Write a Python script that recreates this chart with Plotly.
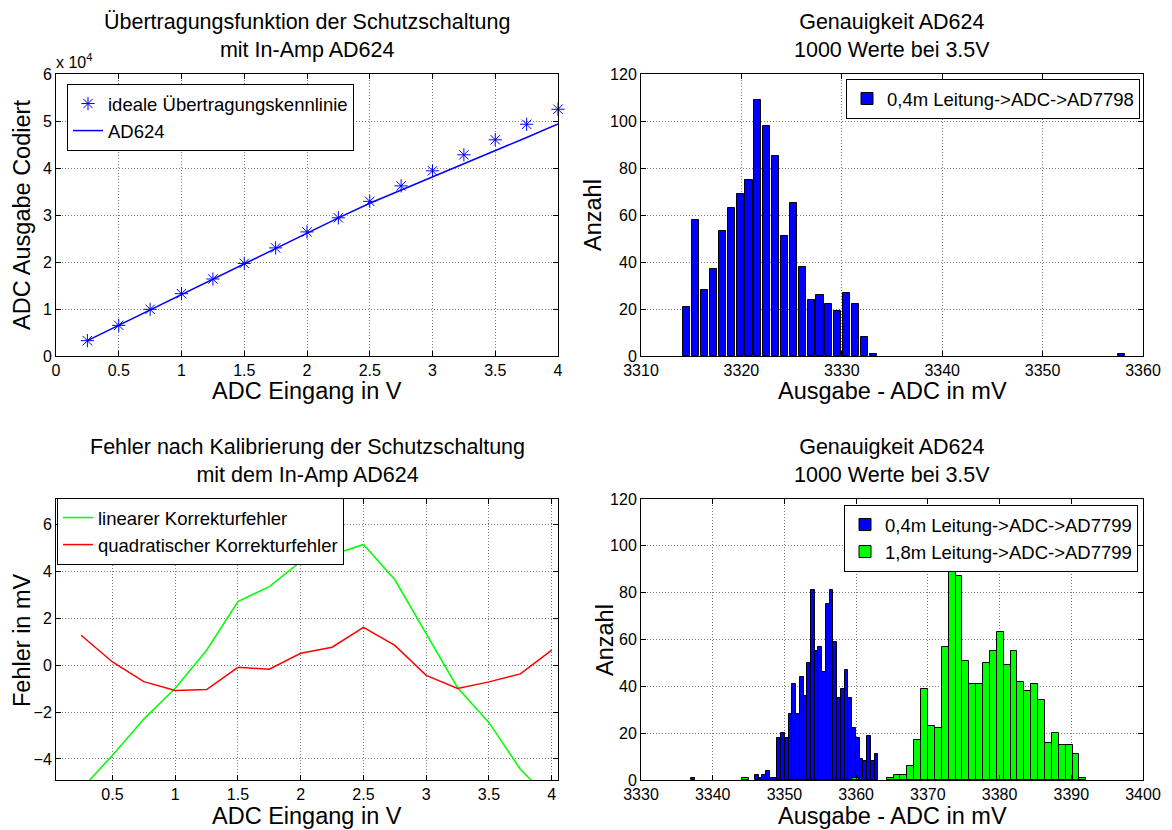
import plotly.graph_objects as go

W, H = 1172, 830

# ---------------- data ----------------
x_volt = [0.25, 0.5, 0.75, 1.0, 1.25, 1.5, 1.75, 2.0, 2.25, 2.5, 2.75, 3.0, 3.25, 3.5, 3.75, 4.0]
ideal_codes = [3260, 6520, 9930, 13260, 16380, 19700, 23000, 26400, 29400, 32900,
               36200, 39400, 42800, 46000, 49300, 52500]
ad624_codes = [3260, 6520, 9850, 13100, 16350, 19650, 22900, 26200, 29400, 32500,
               35300, 38000, 40800, 43700, 46500, 49400]

lin_err = [-5.3, -3.84, -2.3, -0.98, 0.64, 2.72, 3.36, 4.43, 4.71, 5.16,
           3.65, 1.35, -0.96, -2.45, -4.44, -5.8]
quad_err = [1.28, 0.14, -0.70, -1.08, -1.04, -0.09, -0.17, 0.51, 0.77, 1.62,
            0.85, -0.43, -0.99, -0.71, -0.37, 0.65]

tr_centers = [3314.57, 3315.45, 3316.34, 3317.22, 3318.11, 3318.99, 3319.87, 3320.76,
              3321.64, 3322.53, 3323.41, 3324.29, 3325.18, 3326.06, 3326.95, 3327.83,
              3328.71, 3329.60, 3330.48, 3331.37, 3332.25, 3333.13, 3357.89]
tr_counts = [21, 58, 28, 37, 53, 63, 69, 75, 109, 98, 85, 51, 65, 38, 24, 26,
             22, 19, 27, 22, 8, 1, 1]
tr_binw = 0.884

br_blue_centers = [3337.27, 3346.14, 3346.66, 3347.18, 3347.70, 3348.23, 3348.75, 3349.27,
                   3349.79, 3350.31, 3350.83, 3351.36, 3351.88, 3352.40, 3352.92, 3353.44,
                   3353.96, 3354.49, 3355.01, 3355.53, 3356.05, 3356.57, 3357.09, 3357.62,
                   3358.14, 3358.66, 3359.18, 3359.70, 3360.22, 3360.75, 3361.27, 3361.79,
                   3362.31, 3362.83]
br_blue_counts = [1, 2, 1, 2, 4, 1, 1, 18, 20, 18, 28, 41, 28, 44, 36, 50, 81, 55, 57, 46,
                  75, 81, 59, 35, 39, 47, 35, 22, 18, 9, 8, 19, 8, 11]
br_blue_binw = 0.5217

br_green_centers = [3344.60, 3359.95, 3364.75, 3365.70, 3366.66, 3367.62, 3368.58, 3369.54,
                    3370.50, 3371.46, 3372.42, 3373.38, 3374.34, 3375.30, 3376.26, 3377.22,
                    3378.18, 3379.13, 3380.09, 3381.05, 3382.01, 3382.97, 3383.93, 3384.89,
                    3385.85, 3386.81, 3387.77, 3388.73, 3389.69, 3390.65, 3391.61]
br_green_counts = [1, 1, 1, 2, 2, 6, 17, 39, 23, 22, 57, 97, 87, 51, 41, 41, 50, 55, 63, 49,
                   55, 42, 38, 41, 34, 16, 20, 15, 15, 11, 1]
br_green_binw = 0.9593

# ---------------- layout helpers ----------------
def px(x):
    return x / W

def py(y):
    return 1 - y / H

FONT = "Liberation Sans, Arial, sans-serif"
TICK = 16
LAB = 23.5
TIT = 21.5
LEG = 18.5

L_COL = (56, 558)
R_COL = (641, 1143)
T_ROW = (74, 356)
B_ROW = (499, 780)

fig = go.Figure()

# top-left
fig.add_trace(go.Scatter(x=x_volt, y=ideal_codes, mode="markers", name="ideale Übertragungskennlinie",
                         marker=dict(symbol="asterisk-open", size=11, color="#0000FF",
                                     line=dict(color="#0000FF", width=1)),
                         cliponaxis=False, xaxis="x", yaxis="y", legend="legend"))
fig.add_trace(go.Scatter(x=x_volt, y=ad624_codes, mode="lines", name="AD624",
                         line=dict(color="#0000FF", width=1.5), xaxis="x", yaxis="y", legend="legend"))

# top-right
fig.add_trace(go.Bar(x=tr_centers, y=tr_counts, width=0.8 * tr_binw, name="0,4m Leitung->ADC->AD7798",
                     marker=dict(color="#0000FF", line=dict(color="black", width=1)),
                     xaxis="x2", yaxis="y2", legend="legend2"))

# bottom-left
fig.add_trace(go.Scatter(x=x_volt, y=lin_err, mode="lines", name="linearer Korrekturfehler",
                         line=dict(color="#00FF00", width=1.5), xaxis="x3", yaxis="y3", legend="legend3"))
fig.add_trace(go.Scatter(x=x_volt, y=quad_err, mode="lines", name="quadratischer Korrekturfehler",
                         line=dict(color="#FF0000", width=1.5), xaxis="x3", yaxis="y3", legend="legend3"))

# bottom-right
fig.add_trace(go.Bar(x=br_blue_centers, y=br_blue_counts, width=br_blue_binw,
                     name="0,4m Leitung->ADC->AD7799",
                     marker=dict(color="#0000FF", line=dict(color="black", width=1)),
                     xaxis="x4", yaxis="y4", legend="legend4"))
fig.add_trace(go.Bar(x=br_green_centers, y=br_green_counts, width=br_green_binw,
                     name="1,8m Leitung->ADC->AD7799",
                     marker=dict(color="#00FF00", line=dict(color="black", width=1)),
                     xaxis="x4", yaxis="y4", legend="legend4"))


def ax(domain, rng, tickvals, ticktext=None, anchor=None):
    d = dict(domain=domain, range=rng, tickvals=tickvals, showgrid=True, gridcolor="#7a7a7a",
             griddash="1px,2px", gridwidth=1, showline=True, linecolor="black", linewidth=1,
             mirror="ticks", ticks="inside", ticklen=5, tickcolor="black", zeroline=False,
             automargin=False,
             tickfont=dict(family=FONT, size=TICK, color="black"), anchor=anchor, fixedrange=True)
    if ticktext is not None:
        d["ticktext"] = ticktext
    return d


xl = [px(L_COL[0]), px(L_COL[1])]
xr = [px(R_COL[0]), px(R_COL[1])]
yt = [py(T_ROW[1]), py(T_ROW[0])]
yb = [py(B_ROW[1]), py(B_ROW[0])]

legend_common = dict(bgcolor="white", bordercolor="black", borderwidth=1,
                     font=dict(family=FONT, size=LEG, color="black"),
                     xanchor="left", yanchor="top", tracegroupgap=0, itemclick=False)

fig.update_layout(
    width=W, height=H, margin=dict(l=0, r=0, t=0, b=0, pad=0, autoexpand=False),
    paper_bgcolor="white", plot_bgcolor="white", barmode="overlay", bargap=0,
    font=dict(family=FONT, color="black"),
    xaxis=ax(xl, [0, 4], [0, 0.5, 1, 1.5, 2, 2.5, 3, 3.5, 4],
             ["0", "0.5", "1", "1.5", "2", "2.5", "3", "3.5", "4"], anchor="y"),
    yaxis=ax(yt, [0, 60000], [0, 10000, 20000, 30000, 40000, 50000, 60000],
             ["0", "1", "2", "3", "4", "5", "6"], anchor="x"),
    xaxis2=ax(xr, [3310, 3360], [3310, 3320, 3330, 3340, 3350, 3360], anchor="y2"),
    yaxis2=ax(yt, [0, 120], [0, 20, 40, 60, 80, 100, 120], anchor="x2"),
    xaxis3=ax(xl, [0.05, 4.05], [0.5, 1, 1.5, 2, 2.5, 3, 3.5, 4],
              ["0.5", "1", "1.5", "2", "2.5", "3", "3.5", "4"], anchor="y3"),
    yaxis3=ax(yb, [-4.9, 7.1], [-4, -2, 0, 2, 4, 6], anchor="x3"),
    xaxis4=ax(xr, [3330, 3400], [3330, 3340, 3350, 3360, 3370, 3380, 3390, 3400], anchor="y4"),
    yaxis4=ax(yb, [0, 120], [0, 20, 40, 60, 80, 100, 120], anchor="x4"),
    legend=dict(x=px(67), y=py(84), **legend_common),
    legend2=dict(x=px(846), y=py(79), **legend_common),
    legend3=dict(x=px(57), y=py(498), **legend_common),
    legend4=dict(x=px(844), y=py(505), **legend_common),
)

ann = []


def title(xc, ybot, text):
    ann.append(dict(x=px(xc), y=py(ybot), xref="paper", yref="paper", text=text, showarrow=False,
                    xanchor="center", yanchor="bottom", font=dict(family=FONT, size=TIT, color="black")))


def label(xc, yc, text, angle=0):
    ann.append(dict(x=px(xc), y=py(yc), xref="paper", yref="paper", text=text, showarrow=False,
                    xanchor="center", yanchor="middle", textangle=angle,
                    font=dict(family=FONT, size=LAB, color="black")))


title(307, 64, "Übertragungsfunktion der Schutzschaltung<br>mit In-Amp AD624")
title(892, 64, "Genauigkeit AD624<br>1000 Werte bei 3.5V")
title(307, 489, "Fehler nach Kalibrierung der Schutzschaltung<br>mit dem In-Amp AD624")
title(892, 489, "Genauigkeit AD624<br>1000 Werte bei 3.5V")

label(307, 391, "ADC Eingang in V")
label(892, 391, "Ausgabe - ADC in mV")
label(307, 816, "ADC Eingang in V")
label(892, 816, "Ausgabe - ADC in mV")
label(22, 215, "ADC Ausgabe Codiert", -90)
label(593, 215, "Anzahl", -90)
label(22, 640, "Fehler in mV", -90)
label(605, 640, "Anzahl", -90)

ann.append(dict(x=px(54), y=py(73), xref="paper", yref="paper", text="x 10<sup>4</sup>", showarrow=False,
                xanchor="left", yanchor="bottom", font=dict(family=FONT, size=TICK, color="black")))

fig.update_layout(annotations=ann)

fig.write_html("out.html")
